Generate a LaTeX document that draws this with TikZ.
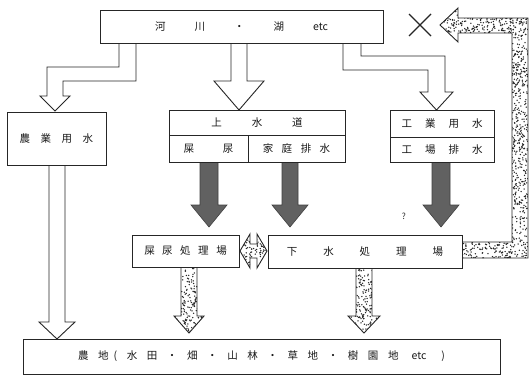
\documentclass[tikz,border=0pt]{standalone}
\usepackage{fontspec}
\setmainfont{Noto Sans CJK JP}
\newcommand\gp[1]{\hspace{#1pt}}
\newcommand\rdots[5]{\foreach \k in {1,...,#5}{\pgfmathsetmacro\rx{#1+rnd*(#2-#1)}\pgfmathsetmacro\ry{#3+rnd*(#4-#3)}\fill[black!85] (\rx,\ry) circle[radius=0.75pt];}}
\begin{document}
\begin{tikzpicture}[x=1pt,y=-1pt,
  box/.style={draw=black!85, line width=0.9pt, fill=white, inner sep=0pt, font=\fontsize{10.5}{12}\selectfont, text=black!90},
  hollow/.style={draw=black!85, line width=0.9pt, fill=white, line join=miter},
  darkarr/.style={draw=black!75, line width=0.6pt, fill=black!62},
  arrline/.style={draw=black!85, line width=0.9pt, line join=miter}]
\useasboundingbox[fill=white] (0,0) rectangle (530,378);
\pgfmathsetseed{11}

% hollow arrows
\draw[hollow] (119,43) -- (119,67) -- (47,67) -- (47,96) -- (40,96) -- (55,111) -- (70,96) -- (63,96) -- (63,81) -- (136,81) -- (136,43);
\draw[hollow] (231,43) -- (231,81) -- (214,81) -- (239,110) -- (264,81) -- (247,81) -- (247,43);
\draw[hollow] (343,43) -- (343,70) -- (428,70) -- (428,92) -- (420,92) -- (436.5,110) -- (453,92) -- (445,92) -- (445,56) -- (361,56) -- (361,43);
\draw[hollow] (49,165) -- (49,322) -- (39,322) -- (57,339) -- (75,322) -- (65,322) -- (65,165);

% dark arrows
\draw[darkarr] (200,162) -- (200,205) -- (191,205) -- (209,227) -- (227,205) -- (218,205) -- (218,162) -- cycle;
\draw[darkarr] (282,162) -- (282,205) -- (272,205) -- (290,227) -- (308,205) -- (298,205) -- (298,162) -- cycle;
\draw[darkarr] (432,162) -- (432,205) -- (423,205) -- (441,227) -- (459,205) -- (450,205) -- (450,162) -- cycle;

% dotted return arrow
\def\retpath{(462,242) -- (512,242) -- (512,33) -- (458,33) -- (458,42) -- (440,25) -- (458,8) -- (458,18) -- (528,18) -- (528,258) -- (462,258) -- cycle}
\fill[white] \retpath;
\begin{scope}\clip \retpath;
 \rdots{510}{528}{18}{258}{560}
 \rdots{462}{512}{242}{258}{110}
 \rdots{440}{512}{8}{33}{240}
\end{scope}
\draw[arrline] \retpath;

% dotted double arrow
\def\dblpath{(240,251) -- (250,234) -- (250,244) -- (257,244) -- (257,234) -- (267,251) -- (257,268) -- (257,258) -- (250,258) -- (250,268) -- cycle}
\fill[white] \dblpath;
\begin{scope}\clip \dblpath;
 \rdots{240}{267}{234}{268}{120}
\end{scope}
\draw[arrline] \dblpath;

% dotted down arrows
\def\dpa{(181,267) -- (181,316) -- (174,316) -- (189,333) -- (204,316) -- (197,316) -- (197,267) -- cycle}
\fill[white] \dpa;
\begin{scope}\clip \dpa;
 \rdots{174}{204}{267}{333}{240}
\end{scope}
\draw[arrline] \dpa;
\def\dpb{(356,268) -- (356,316) -- (348,316) -- (364,333) -- (380,316) -- (372,316) -- (372,268) -- cycle}
\fill[white] \dpb;
\begin{scope}\clip \dpb;
 \rdots{348}{380}{268}{333}{250}
\end{scope}
\draw[arrline] \dpb;

% boxes
\node[box, minimum width=283pt, minimum height=33pt] (river) at (241.5,26.5) {河\gp{29}川\gp{29}・\gp{29}湖\gp{29}etc\gp{16}};
\node[box, minimum width=99pt, minimum height=53pt] (nogyo) at (56.5,138.5) {農\gp{10.5}業\gp{10.5}用\gp{10.5}水};
\node[box, minimum width=176pt, minimum height=25pt] (josui) at (257,122.5) {上\gp{30}水\gp{30}道\gp{8}};
\node[box, minimum width=79pt, minimum height=27pt] (shinyo) at (208.5,148.5) {屎\gp{29}尿};
\node[box, minimum width=97pt, minimum height=27pt] (katei) at (296.5,148.5) {家\gp{8.5}庭\gp{8.5}排\gp{8.5}水\gp{8}};
\node[box, minimum width=104pt, minimum height=27pt] (kogyo) at (442,123.5) {工\gp{13}業\gp{13}用\gp{13}水};
\node[box, minimum width=104pt, minimum height=25pt] (kojo) at (442,149.5) {工\gp{13}場\gp{13}排\gp{13}水};
\node[box, minimum width=107pt, minimum height=32pt] (shplant) at (185.5,251) {屎\gp{7.5}尿\gp{7.5}処\gp{7.5}理\gp{7.5}場};
\node[box, minimum width=194pt, minimum height=33pt] (gesui) at (365,251.5) {下\gp{26}水\gp{26}処\gp{26}理\gp{26}場\gp{10}};
\node[box, minimum width=477pt, minimum height=35pt] (nochi) at (261.5,356.5) {農\gp{9.6}地\gp{5}(\gp{9.6}水\gp{9.6}田\gp{9.6}・\gp{9.6}畑\gp{9.6}・\gp{9.6}山\gp{9.6}林\gp{9.6}・\gp{9.6}草\gp{9.6}地\gp{9.6}・\gp{9.6}樹\gp{9.6}園\gp{9.6}地\gp{13}etc\gp{15})\gp{6}};

% cross and question mark
\draw[black!85, line width=1.1pt] (409,14) -- (431,36) (409,36) -- (431,14);
\node[font=\fontsize{8.5}{9}\selectfont, text=black!85, inner sep=0pt] (q) at (404,216) {?};
\end{tikzpicture}
\end{document}
